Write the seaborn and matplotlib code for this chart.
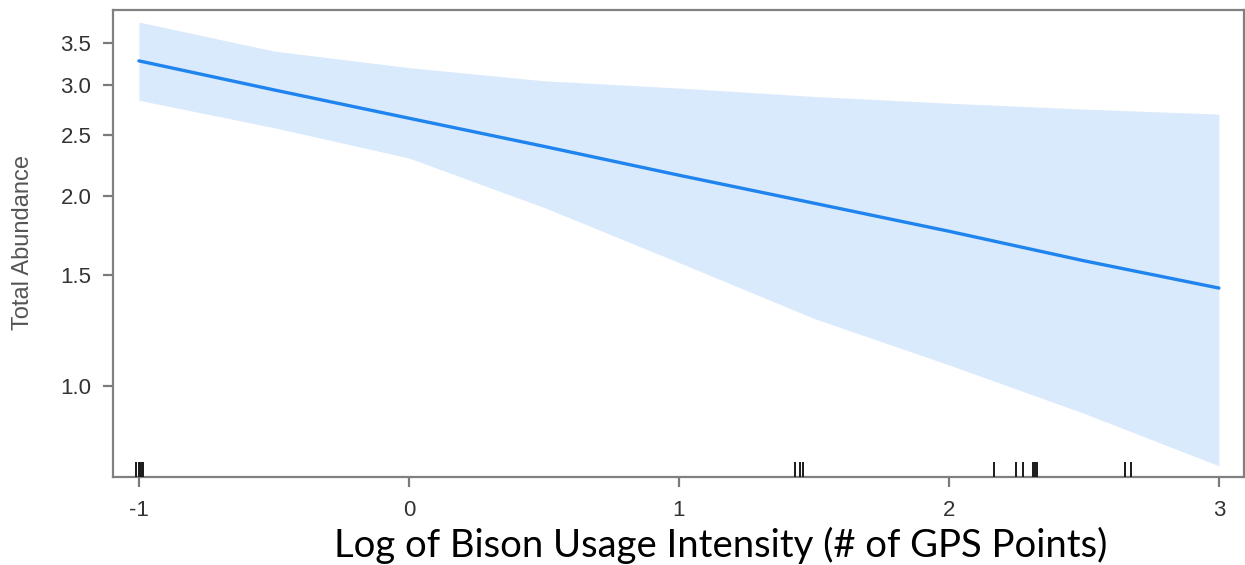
import numpy as np
import pandas as pd
import matplotlib
matplotlib.use("Agg")
import matplotlib.pyplot as plt
import seaborn as sns

# ---- data ----
x_grid = [-1.0, -0.5, 0.0, 0.5, 1.0, 1.5, 2.0, 2.5, 3.0]
fit_vals = [3.28, 2.95, 2.66, 2.40, 2.16, 1.95, 1.76, 1.58, 1.43]
upper_vals = [3.78, 3.40, 3.20, 3.05, 2.97, 2.88, 2.81, 2.75, 2.70]
lower_vals = [2.84, 2.57, 2.30, 1.92, 1.57, 1.28, 1.08, 0.905, 0.747]
rug_x = [-1.01, -1.0, -0.995, -0.99, -0.986,
         1.43, 1.45, 1.46,
         2.167, 2.248, 2.274, 2.311, 2.318, 2.326,
         2.652, 2.674]
x_ticks = [-1, 0, 1, 2, 3]
y_ticks = [1.0, 1.5, 2.0, 2.5, 3.0, 3.5]
y_tick_labels = ["1.0", "1.5", "2.0", "2.5", "3.0", "3.5"]
x_label = "Log of Bison Usage Intensity (# of GPS Points)"
y_label = "Total Abundance"

sns.set_style("white")
plt.rcParams["font.family"] = ["Liberation Sans", "DejaVu Sans"]

fig = plt.figure(figsize=(12.45, 5.65), dpi=100)
ax = fig.add_axes([113 / 1245, 1 - 477 / 565, (1244 - 113) / 1245, (477 - 10) / 565])

df = pd.DataFrame({"x": x_grid, "fit": fit_vals, "lo": lower_vals, "hi": upper_vals})
ax.fill_between(df["x"], df["lo"], df["hi"], color="#d9eafc", linewidth=0, zorder=1)
sns.lineplot(data=df, x="x", y="fit", ax=ax, color="#1f84ee", linewidth=2.4, zorder=3)

ax.set_yscale("log")
ax.set_xlim(-1.096, 3.093)
ax.set_ylim(0.717, 3.95)

sns.rugplot(x=rug_x, ax=ax, height=0.032, color="#1a1a1a", linewidth=1.4, zorder=4)

ax.set_xticks(x_ticks)
ax.set_xticklabels([str(v) for v in x_ticks])
ax.set_yticks(y_ticks)
ax.set_yticklabels(y_tick_labels)
ax.yaxis.set_minor_locator(matplotlib.ticker.NullLocator())

ax.tick_params(axis="both", which="major", direction="out", length=7.5, width=1.6,
               color="#7a7a7a", labelsize=16, labelcolor="#333333")
ax.tick_params(axis="y", left=True, pad=8)
ax.tick_params(axis="x", bottom=True, pad=9)

for s in ax.spines.values():
    s.set_color("#808080")
    s.set_linewidth(1.6)
    s.set_visible(True)

ax.set_xlabel("")
ax.set_ylabel("")
fig.text(23 / 1245, 1 - 242 / 565, y_label, rotation=90, ha="center", va="center",
         fontsize=17, color="#555555")
fig.text(721 / 1245, 1 - 545 / 565, x_label, ha="center", va="center",
         fontsize=27.5, color="#000000", family=["Lato", "DejaVu Sans"])

fig.savefig("out.png", dpi=100)
